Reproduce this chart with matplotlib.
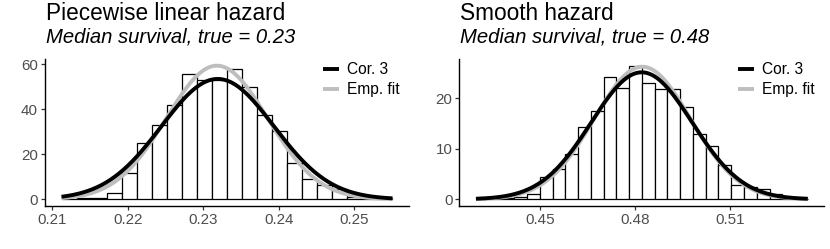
import numpy as np
import matplotlib
matplotlib.use('Agg')
import matplotlib.pyplot as plt

plt.rcParams['font.family'] = ['Liberation Sans', 'DejaVu Sans']

# piecewise linear hazard: histogram of median survival estimates
pw_bin_start = 0.2112
pw_bin_width = 0.001994
pw_counts = [1.5, 0.7, 0.5, 2.6, 11.5, 25.0, 33.0, 42.0, 55.8, 53.0, 53.2,
             58.0, 49.8, 37.4, 30.3, 16.2, 9.0, 6.5, 4.6, 1.2, 0.5, 0.4]
pw_cor3 = (0.2319, 0.00746)   # mean, sd
pw_emp = (0.2318, 0.00672)
pw_xticks = [0.21, 0.22, 0.23, 0.24, 0.25]
pw_yticks = [0, 20, 40, 60]

# smooth hazard
sm_bin_start = 0.4298
sm_bin_width = 0.004028
sm_counts = [0.2, 0.2, 0.3, 0.5, 1.0, 4.4, 6.0, 9.0, 14.3, 17.5, 24.2, 22.0, 26.4,
             23.0, 21.7, 21.8, 18.3, 13.0, 10.5, 6.8, 2.8, 2.4, 2.0, 1.0, 0.3, 0.1]
sm_cor3 = (0.4821, 0.0159)
sm_emp = (0.4823, 0.01523)
sm_xticks = [0.45, 0.48, 0.51]
sm_yticks = [0, 10, 20]

titles = ["Piecewise linear hazard", "Smooth hazard"]
subtitles = ["Median survival, true = 0.23", "Median survival, true = 0.48"]


def dnorm(x, mean, sd):
    return np.exp(-0.5 * ((x - mean) / sd) ** 2) / (sd * np.sqrt(2 * np.pi))


def draw_panel(ax, start, width, counts, cor3, emp, xticks, yticks):
    lefts = start + width * np.arange(len(counts))
    ax.bar(lefts, counts, width=width, align='edge', color='white',
           edgecolor='black', linewidth=0.9, zorder=1)
    x0, x1 = lefts[0], lefts[-1] + width
    xs = np.linspace(x0, x1, 300)
    y_emp = dnorm(xs, *emp)
    y_cor = dnorm(xs, *cor3)
    ax.plot(xs, y_emp, color='#BEBEBE', lw=2.8, label='Emp. fit', zorder=2,
            solid_capstyle='butt')
    ax.plot(xs, y_cor, color='black', lw=2.8, label='Cor. 3', zorder=3,
            solid_capstyle='butt')

    # ggplot-like expansion
    span = x1 - x0
    ax.set_xlim(x0 - 0.05 * span, x1 + 0.05 * span)
    top = max(max(counts), y_emp.max(), y_cor.max())
    ax.set_ylim(-0.05 * top, 1.05 * top)
    ax.set_xticks(xticks)
    ax.set_xticklabels([f"{t:g}" for t in xticks])
    ax.set_yticks(yticks)

    for s in ['top', 'right']:
        ax.spines[s].set_visible(False)
    for s in ['left', 'bottom']:
        ax.spines[s].set_linewidth(1.0)
        ax.spines[s].set_color('black')
    ax.tick_params(length=3, width=0.9, color='#333333', labelcolor='#4D4D4D',
                   labelsize=10.9, pad=2)

    h, l = ax.get_legend_handles_labels()
    ax.legend(h[::-1], l[::-1], loc='upper left', bbox_to_anchor=(0.742, 1.03),
              frameon=False, fontsize=11.2, handlelength=1.05, handletextpad=0.5,
              borderpad=0, labelspacing=0.3)


fig = plt.figure(figsize=(8.3, 2.49), dpi=100)
ax1 = fig.add_axes([45 / 830, 43 / 249, 364 / 830, 147 / 249])
ax2 = fig.add_axes([459.4 / 830, 43 / 249, 365 / 830, 147 / 249])

draw_panel(ax1, pw_bin_start, pw_bin_width, pw_counts, pw_cor3, pw_emp,
           pw_xticks, pw_yticks)
draw_panel(ax2, sm_bin_start, sm_bin_width, sm_counts, sm_cor3, sm_emp,
           sm_xticks, sm_yticks)

for i, ax in enumerate([ax1, ax2]):
    x = ax.get_position().x0
    fig.text(x + 1 / 830, 228.5 / 249, titles[i], fontsize=16.3, va='baseline',
             ha='left', color='black')
    fig.text(x + 1 / 830, 206.5 / 249, subtitles[i], fontsize=14.6,
             style='italic', va='baseline', ha='left', color='black')

fig.savefig('out.png', dpi=100)
